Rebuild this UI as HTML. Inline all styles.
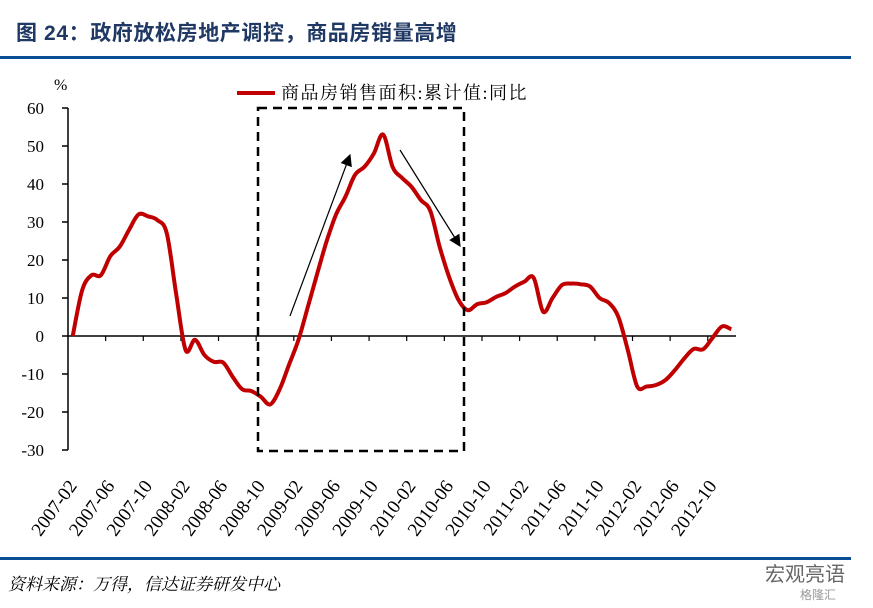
<!DOCTYPE html>
<html><head><meta charset="utf-8">
<style>
body{margin:0;background:#fff;width:873px;height:608px;overflow:hidden;position:relative;font-family:"Liberation Serif","Noto Serif CJK SC",serif}
.title{position:absolute;left:16px;top:17px;font-family:"Liberation Sans","Noto Sans CJK SC",sans-serif;font-weight:bold;font-size:21px;color:#1f3864;letter-spacing:0.6px}
.src{position:absolute;left:8px;top:570px;font-style:italic;font-size:17px;color:#000}
</style></head><body>
<div class="title">图 24：政府放松房地产调控，商品房销量高增</div>
<div style="position:absolute;left:0;top:56px;width:851px;height:3px;background:#0a4f96"></div>
<div style="position:absolute;left:0;top:557px;width:851px;height:3px;background:#0a4f96"></div>
<div class="src">资料来源：万得，信达证券研发中心</div>
<div style="position:absolute;left:765px;top:558px;font-family:'Noto Sans CJK SC',sans-serif;font-size:20px;color:#666">宏观亮语</div>
<div style="position:absolute;left:800px;top:586px;font-family:'Noto Sans CJK SC',sans-serif;font-size:12px;color:#999">格隆汇</div>
<svg id="chart" width="873" height="608" style="position:absolute;left:0;top:0"></svg>
<script>
const categories=[];for(let y=2007;y<=2012;y++){for(let m=1;m<=12;m++){if(y===2007&&m<2)continue;categories.push(y+'-'+String(m).padStart(2,'0'));}}
const salesYoY=[0,12,16,16,21,23.5,28,32,31.5,30.5,27,11,-3.7,-1,-5,-6.8,-7,-10.7,-14,-14.5,-16,-18,-14,-7.5,-1,7.7,16.5,25,32,36.7,42.4,44.5,48,53,44.5,41.6,39.3,35.8,33,23.5,15.6,9.5,6.8,8.4,8.9,10.3,11.3,13,14.3,15.3,6.4,10,13.4,13.8,13.6,13,10,8.7,5,-3.7,-13.3,-13.3,-12.9,-11.6,-9,-5.9,-3.4,-3.5,-0.5,2.5,1.8];
const yTicks=[60,50,40,30,20,10,0,-10,-20,-30];
const NS='http://www.w3.org/2000/svg';
const svg=document.getElementById('chart');
const x0=68,x1=736,yTop=108,yBot=450;
const n=categories.length,step=(x1-x0)/n;
const xS=i=>x0+(i+0.5)*step;
const yS=v=>yTop+(60-v)*(yBot-yTop)/90;
function mk(t,a){const e=document.createElementNS(NS,t);for(const k in a)e.setAttribute(k,a[k]);svg.appendChild(e);return e;}
let e=mk('line',{x1:x0,y1:yTop,x2:x0,y2:yBot,stroke:'#000','stroke-width':1.5});


yTicks.forEach(v=>{
 let t=mk('line',{x1:x0-6,y1:yS(v),x2:x0,y2:yS(v),stroke:'#000','stroke-width':1.5});
 
 
 let l=mk('text',{x:44,y:yS(v)+6,'text-anchor':'end','font-size':17,'font-family':'Liberation Serif, serif'});l.textContent=v;
 
 
});
e=mk('line',{x1:x0,y1:yS(0),x2:x1,y2:yS(0),stroke:'#000','stroke-width':1.5});


categories.forEach((c,i)=>{
 if(i%4===0&&i>0){let t=mk('line',{x1:x0+i*step,y1:yS(0),x2:x0+i*step,y2:yS(0)+5,stroke:'#000','stroke-width':1.2});
 
 }
 if(i%4===0){const lx=xS(i)+5,ly=486;
 let l=mk('text',{x:lx,y:ly,'text-anchor':'end','font-size':19,'font-family':'Liberation Serif, serif',transform:`rotate(-54 ${lx} ${ly})`});l.textContent=c;
 
 }
});
e=mk('text',{x:54,y:90,'font-size':16,'font-family':'Liberation Serif, serif'});e.textContent='%';


const pts=salesYoY.map((v,i)=>[xS(i),yS(v)]);
let d='M'+pts[0][0].toFixed(1)+','+pts[0][1].toFixed(1);
for(let i=0;i<pts.length-1;i++){const p0=pts[Math.max(0,i-1)],p1=pts[i],p2=pts[i+1],p3=pts[Math.min(pts.length-1,i+2)];
 const c1=[p1[0]+(p2[0]-p0[0])/6,p1[1]+(p2[1]-p0[1])/6],c2=[p2[0]-(p3[0]-p1[0])/6,p2[1]-(p3[1]-p1[1])/6];
 d+=`C${c1[0].toFixed(1)},${c1[1].toFixed(1)} ${c2[0].toFixed(1)},${c2[1].toFixed(1)} ${p2[0].toFixed(1)},${p2[1].toFixed(1)}`;}
e=mk('path',{d:d,fill:'none',stroke:'#c00000','stroke-width':4,'stroke-linejoin':'round'});


e=mk('rect',{x:258,y:108,width:206,height:343,fill:'none',stroke:'#000','stroke-width':2.5,'stroke-dasharray':'9,6'});


mk('defs',{}).innerHTML='<marker id="ah" markerWidth="10" markerHeight="10" refX="9" refY="5" orient="auto"><path d="M0,0L10,5L0,10z" fill="#000"/></marker>';
e=mk('line',{x1:290,y1:316,x2:350,y2:155,stroke:'#000','stroke-width':1.2,'marker-end':'url(#ah)'});


e=mk('line',{x1:400,y1:150,x2:460,y2:246,stroke:'#000','stroke-width':1.2,'marker-end':'url(#ah)'});


e=mk('rect',{x:232,y:78,width:320,height:28,fill:'#fff'});


e=mk('line',{x1:237,y1:93,x2:275,y2:93,stroke:'#c00000','stroke-width':4});


e=mk('text',{x:281,y:99,'font-size':18,'letter-spacing':1.5,'font-family':'Liberation Serif, Noto Serif CJK SC, serif'});e.textContent='商品房销售面积:累计值:同比';


</script>
</body></html>
